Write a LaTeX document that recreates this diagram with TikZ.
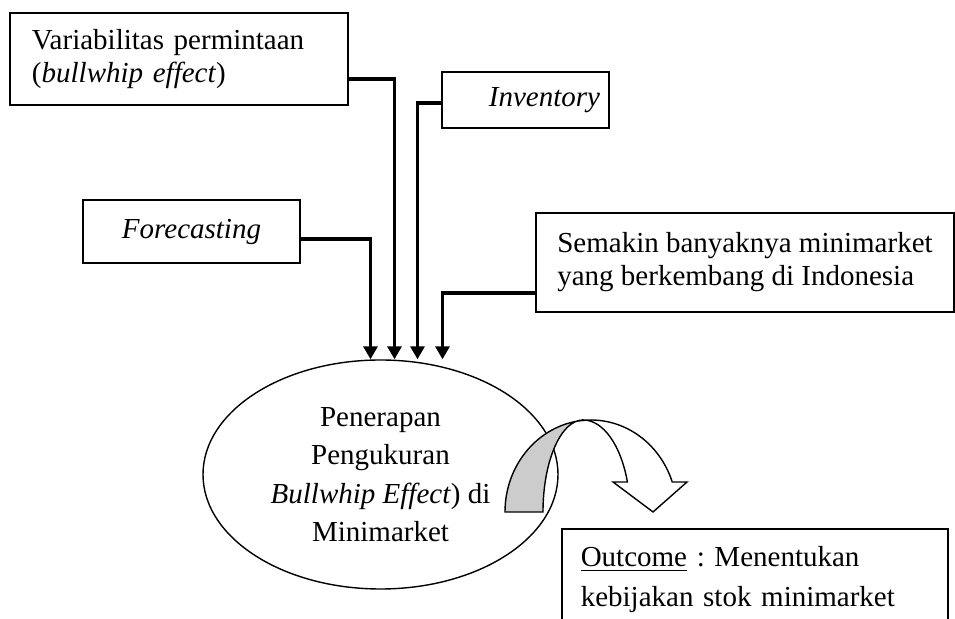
\documentclass[tikz,border=0pt]{standalone}
\usepackage{fontspec}
\setmainfont{Liberation Serif}
\usepackage{tikz}
\usetikzlibrary{arrows.meta,shapes.geometric}
\frenchspacing

\begin{document}
\begin{tikzpicture}[x=0.5pt,y=-0.5pt,
  box/.style={draw,line width=0.8pt,inner ysep=0pt,font=\fontsize{14.5}{16.5}\selectfont},
  conn/.style={line width=1.7pt,-{Triangle[length=6.5pt,width=7pt]}}]
\useasboundingbox (0,0) rectangle (955,619);

% factor boxes
\node[box,minimum width=169pt,minimum height=46pt,inner xsep=11pt,text width=147pt,align=left] (var) at (179,59) {Variabilitas permintaan\\(\textit{bullwhip effect})};
\node[box,minimum width=83.5pt,minimum height=28pt,inner xsep=4.5pt,text width=74.5pt,align=right] (inv) at (525.5,100) {\textit{Inventory}};
\node[box,minimum width=108.5pt,minimum height=31.5pt] (fc) at (191.5,231.5) {\textit{Forecasting}};
\node[box,minimum width=209pt,minimum height=49.5pt,align=left] (sem) at (745,262.5) {Semakin banyaknya minimarket\\yang berkembang di Indonesia};

% centre
\node[draw,ellipse,line width=0.7pt,minimum width=177.5pt,minimum height=114.5pt,inner sep=0pt,align=center,font=\fontsize{14.5}{19.25}\selectfont] (pen) at (380.5,474.5) {Penerapan\\Pengukuran\\\textit{Bullwhip Effect}) di\\Minimarket};

% outcome, runs off the page
\node[box,anchor=north west,inner xsep=9.5pt,inner ysep=9pt,text width=174pt,align=left,text depth=40pt,font=\fontsize{14.5}{20}\selectfont] (out) at (561,528) {\underline{Outcome} : Menentukan\\kebijakan stok minimarket};

\draw[conn] ([yshift=-3.75pt]fc.east) -| ([xshift=-5pt]pen.north);
\draw[conn] ([yshift=-10pt]var.east) -| ([xshift=7pt]pen.north);
\draw[conn] ([yshift=-1.5pt]inv.west) -| ([xshift=18.5pt]pen.north);
\draw[conn] ([yshift=-15.25pt]sem.west) -| ([xshift=31pt]pen.north);

% curved arrow
\draw[line width=0.7pt,fill=black!20] (505,512) arc[start angle=180,end angle=95.3,x radius=43pt,y radius=46pt] -- (583,420) arc[start angle=90,end angle=180,x radius=20pt,y radius=46pt] -- cycle;
\draw[line width=0.7pt,fill=white] (583,420.4) arc[start angle=95.3,end angle=19,x radius=43pt,y radius=46pt] -- (687,482) -- (653,512) -- (613,482) -- (627.4,482) arc[start angle=19,end angle=90,x radius=23.5pt,y radius=46pt] -- cycle;
\end{tikzpicture}
\end{document}
